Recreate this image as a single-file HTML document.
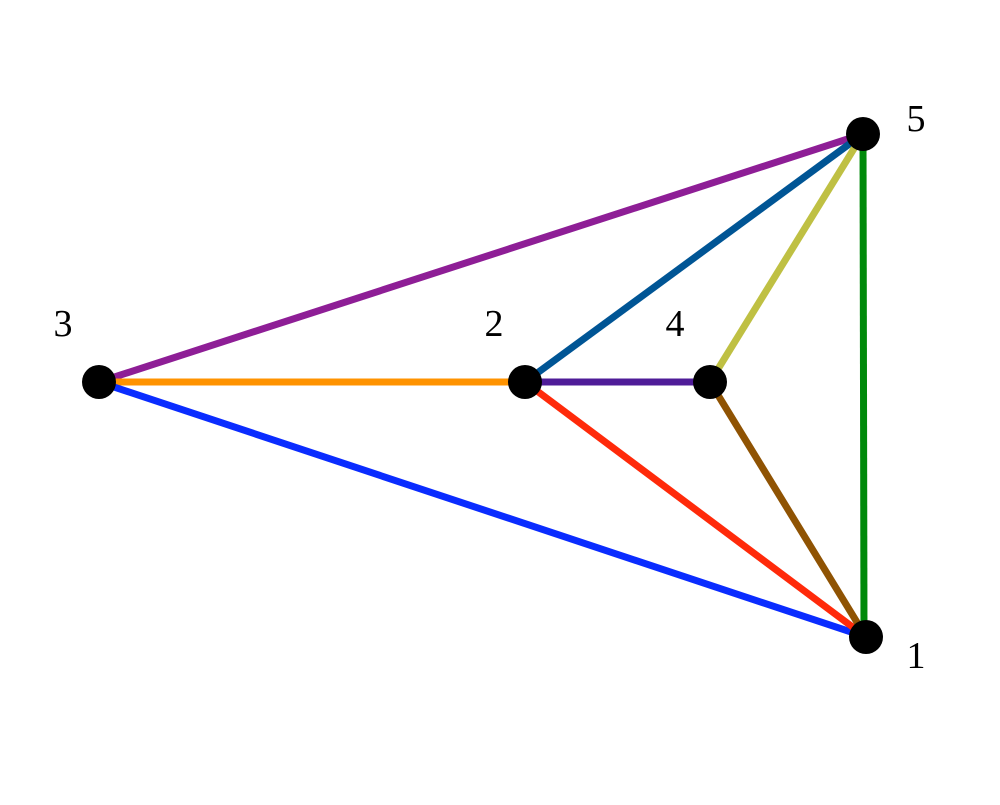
<!DOCTYPE html>
<html><head><style>html,body{margin:0;padding:0;background:#fff}</style></head>
<body>
<svg width="1000" height="800" xmlns="http://www.w3.org/2000/svg">
<rect width="1000" height="800" fill="#fff"/>
<g stroke-width="7" stroke-linecap="butt">
<line x1="99" y1="382" x2="863" y2="134" stroke="#8e1e96"/>
<line x1="99" y1="382" x2="525" y2="382" stroke="#ff9300"/>
<line x1="99" y1="382" x2="866" y2="637" stroke="#0a2cff"/>
<line x1="525" y1="382" x2="863" y2="134" stroke="#005595"/>
<line x1="525" y1="382" x2="710" y2="382" stroke="#4f1c98"/>
<line x1="525" y1="382" x2="866" y2="637" stroke="#ff2a0a"/>
<line x1="710" y1="382" x2="863" y2="134" stroke="#bfc043"/>
<line x1="710" y1="382" x2="866" y2="637" stroke="#8f5303"/>
<line x1="863" y1="134" x2="864" y2="637" stroke="#008a0a"/>
</g>
<g fill="#000">
<circle cx="99" cy="382" r="17"/>
<circle cx="525" cy="382" r="17"/>
<circle cx="710" cy="382" r="17"/>
<circle cx="863" cy="134" r="17"/>
<circle cx="866" cy="637" r="17"/>
</g>
<g font-family="Liberation Serif, serif" font-size="38" fill="#000" text-anchor="middle">
<text x="63" y="336">3</text>
<text x="494" y="336">2</text>
<text x="675" y="336">4</text>
<text x="916" y="131">5</text>
<text x="916" y="668">1</text>
</g>
</svg>
</body></html>
